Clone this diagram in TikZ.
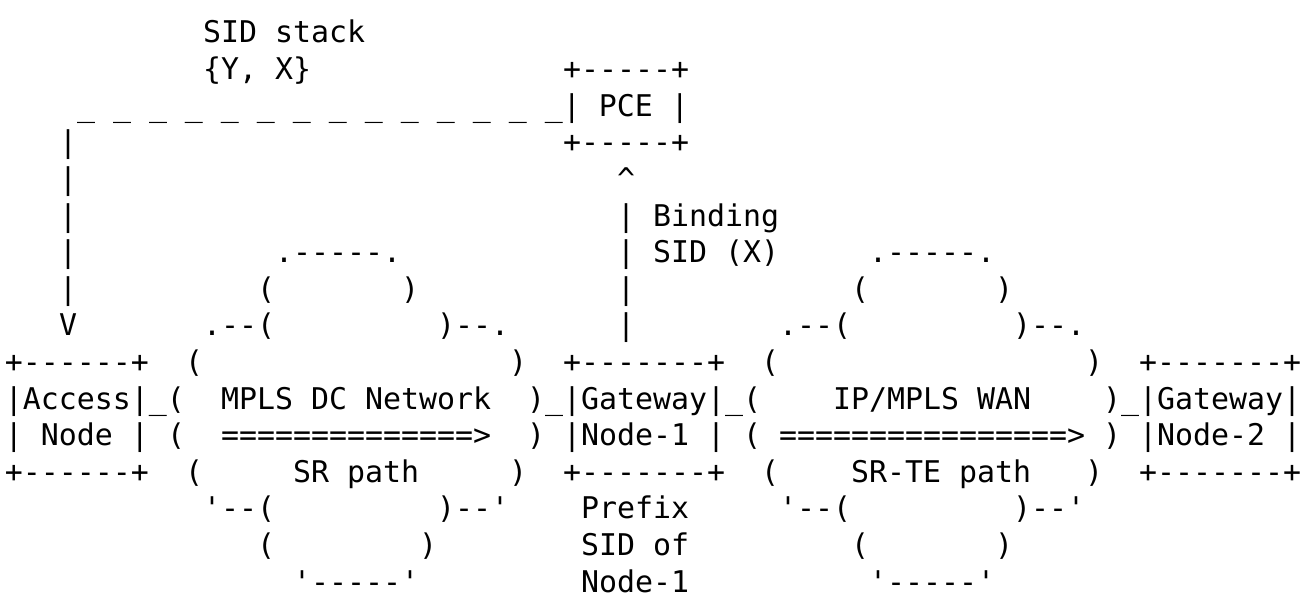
\documentclass[tikz,border=0pt]{standalone}
\usepackage{fontspec}
\setmonofont{DejaVu Sans Mono}
\newcommand\asc[3]{\node[txt] (r#2c#1) at ({5pt+18pt*#1},{-409pt-(#2-11)*36.6pt}) {#3};}
\begin{document}
\begin{tikzpicture}[txt/.style={anchor=base west,inner sep=0pt,outer sep=0pt,font=\ttfamily\fontsize{29.9pt}{36pt}\selectfont}]
\useasboundingbox[fill=white] (0,0) rectangle (1316pt,-602pt);
% row 1-2
\asc{11}{1}{SID stack}
\asc{11}{2}{\{Y, X\}}
\asc{31}{2}{+-----+}
% row 3
\asc{4}{3}{\_ \_ \_ \_ \_ \_ \_ \_ \_ \_ \_ \_ \_ \_| PCE |}
% row 4-6
\asc{3}{4}{|}
\asc{31}{4}{+-----+}
\asc{3}{5}{|}
\asc{34}{5}{\textasciicircum}
\asc{3}{6}{|}
\asc{34}{6}{| Binding}
% row 7
\asc{3}{7}{|}
\asc{15}{7}{.-----.}
\asc{34}{7}{| SID (X)}
\asc{48}{7}{.-----.}
% row 8
\asc{3}{8}{|}
\asc{14}{8}{(}
\asc{22}{8}{)}
\asc{34}{8}{|}
\asc{47}{8}{(}
\asc{55}{8}{)}
% row 9
\asc{3}{9}{V}
\asc{11}{9}{.--(}
\asc{24}{9}{)--.}
\asc{34}{9}{|}
\asc{43}{9}{.--(}
\asc{56}{9}{)--.}
% row 10
\asc{0}{10}{+------+}
\asc{10}{10}{(}
\asc{28}{10}{)}
\asc{31}{10}{+-------+}
\asc{42}{10}{(}
\asc{60}{10}{)}
\asc{63}{10}{+-------+}
% row 11
\asc{0}{11}{|Access|\_(}
\asc{12}{11}{MPLS DC Network}
\asc{29}{11}{)\_|Gateway|\_(}
\asc{46}{11}{IP/MPLS WAN}
\asc{61}{11}{)\_|Gateway|}
% row 12
\asc{0}{12}{| Node |}
\asc{9}{12}{(}
\asc{12}{12}{==============>}
\asc{29}{12}{)}
\asc{31}{12}{|Node-1 |}
\asc{41}{12}{(}
\asc{43}{12}{================>}
\asc{61}{12}{)}
\asc{63}{12}{|Node-2 |}
% row 13
\asc{0}{13}{+------+}
\asc{10}{13}{(}
\asc{16}{13}{SR path}
\asc{28}{13}{)}
\asc{31}{13}{+-------+}
\asc{42}{13}{(}
\asc{47}{13}{SR-TE path}
\asc{60}{13}{)}
\asc{63}{13}{+-------+}
% row 14
\asc{11}{14}{'--(}
\asc{24}{14}{)--'}
\asc{32}{14}{Prefix}
\asc{43}{14}{'--(}
\asc{56}{14}{)--'}
% row 15
\asc{14}{15}{(}
\asc{23}{15}{)}
\asc{32}{15}{SID of}
\asc{47}{15}{(}
\asc{55}{15}{)}
% row 16
\asc{16}{16}{'-----'}
\asc{32}{16}{Node-1}
\asc{48}{16}{'-----'}
\end{tikzpicture}
\end{document}
